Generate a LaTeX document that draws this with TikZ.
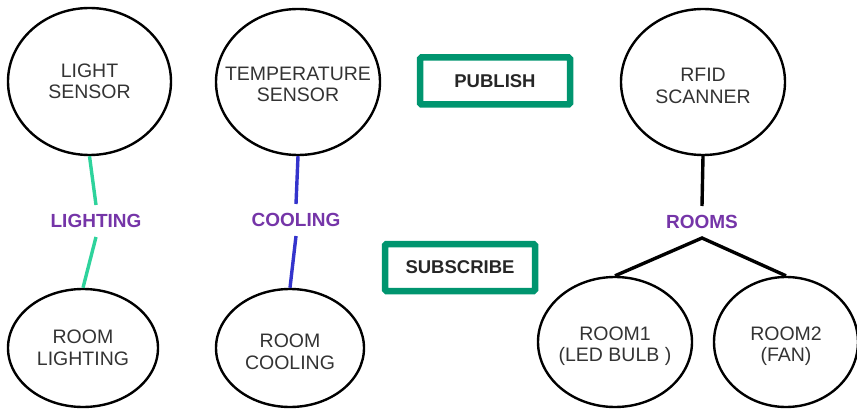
\documentclass[tikz,border=0pt]{standalone}
\usepackage{fontspec}
\setmainfont{Liberation Sans}
\usetikzlibrary{shapes.geometric}
\definecolor{boxgreen}{HTML}{00956F}
\definecolor{lgreen}{HTML}{2ED39C}
\definecolor{cblue}{HTML}{3434CC}
\definecolor{tpurple}{HTML}{7535A8}
\definecolor{tgray}{HTML}{333333}
\begin{document}
\begin{tikzpicture}[x=1pt,y=-1pt,
  circ/.style={ellipse,draw=black,line width=2.4pt,inner sep=0pt},
  ctext/.style={inner sep=0pt,align=center,text=tgray,font=\fontsize{19.5}{21.5}\selectfont},
  topic/.style={text=tpurple,font=\bfseries\fontsize{19}{21}\selectfont,inner sep=2pt,outer sep=0pt},
  pubbox/.style={draw=boxgreen,line width=6.5pt,rounded corners=1.5pt,minimum width=150pt,minimum height=47pt,
    inner sep=0pt,font=\bfseries\fontsize{18.5}{21}\selectfont,text=black!85},
  conn/.style={line width=3.4pt}]
\useasboundingbox (0,0) rectangle (857,409);
% sensors
\node[circ,minimum width=163pt,minimum height=147pt] (ls) at (89.5,81.5) {};
\node[ctext] (lst) at (ls) {LIGHT\\SENSOR};
\node[circ,minimum width=164pt,minimum height=146pt] (ts) at (298,82) {};
\node[ctext] (tst) at ([yshift=-2.5pt]ts.center) {TEMPERATURE\\SENSOR};
\node[circ,minimum width=164pt,minimum height=146pt] (rf) at (703,82) {};
\node[ctext] (rft) at ([yshift=-4pt]rf.center) {RFID\\SCANNER};
% consumers
\node[circ,minimum width=150pt,minimum height=118pt] (rl) at (83,348) {};
\node[ctext] (rlt) at (rl) {ROOM\\LIGHTING};
\node[circ,minimum width=148pt,minimum height=118pt] (rc) at (290,348) {};
\node[ctext] (rct) at ([yshift=-4pt]rc.center) {ROOM\\COOLING};
\node[circ,minimum width=154pt,minimum height=130pt] (r1) at (615,342) {};
\node[ctext] (r1t) at ([yshift=-4pt]r1.center) {ROOM1\\(LED BULB )};
\node[circ,minimum width=144pt,minimum height=130pt] (r2) at (786,342) {};
\node[ctext] (r2t) at ([yshift=-4pt]r2.center) {ROOM2\\(FAN)};
% topics
\node[topic,minimum height=32pt] (lt) at (96,221) {LIGHTING};
\node[topic,minimum height=32pt] (ct) at (296,220) {COOLING};
\node[topic,minimum height=32pt] (rt) at (702,222) {ROOMS};
% boxes
\node[pubbox] (pub) at (495,81) {PUBLISH};
\node[pubbox] (sub) at (460,267.5) {SUBSCRIBE};
% connectors
\draw[conn,lgreen] (ls.south) -- (lt.north);
\draw[conn,lgreen] (lt.south) -- (rl.north);
\draw[conn,cblue] (ts.south) -- (ct.north);
\draw[conn,cblue] (ct.south) -- (rc.north);
\draw[conn,black] (rf.south) -- (rt.north);
\draw[conn,black,line join=miter] (r1.north) -- (rt.south) -- (r2.north);
\end{tikzpicture}
\end{document}
